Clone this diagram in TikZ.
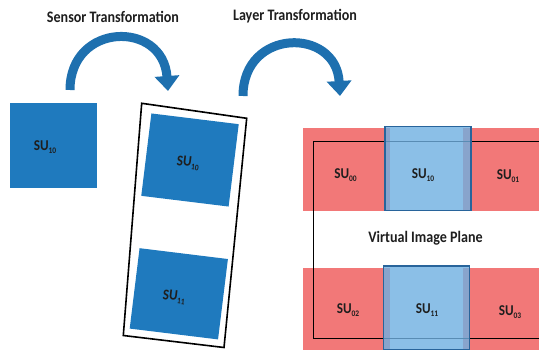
\documentclass[tikz,border=0pt]{standalone}
\usepackage{fontspec}
\setmainfont{Carlito}[FakeStretch=0.88]
\usetikzlibrary{arrows.meta}
\definecolor{subblue}{RGB}{31,122,190}
\definecolor{arrowblue}{RGB}{30,112,175}
\definecolor{subred}{RGB}{242,120,120}
\definecolor{vblue}{RGB}{110,175,225}
\definecolor{vborder}{RGB}{40,100,155}
\definecolor{txt}{RGB}{30,30,30}
\newcommand{\sulabel}[1]{SU\raisebox{-0.4ex}{\fontsize{8.5}{9}\selectfont #1}}
\begin{document}
\begin{tikzpicture}[x=1pt,y=-1pt,
  sensorbox/.style={fill=subblue, draw=none, inner sep=0pt},
  redbox/.style={fill=subred, draw=none, inner sep=0pt, minimum width=87pt, minimum height=83pt},
  vbox/.style={fill=vblue, fill opacity=0.8, draw=vborder, line width=1.2pt, inner sep=0pt, minimum width=86pt, minimum height=84pt},
  sutext/.style={font=\bfseries\fontsize{15}{15}\selectfont, text=txt, inner sep=0pt},
  title/.style={font=\bfseries\fontsize{16}{16}\selectfont, text=txt, inner sep=0pt},
  bigarrow/.style={draw=arrowblue, line width=9pt, -{Triangle[width=24pt,length=15pt]}}
]
\useasboundingbox (0,0) rectangle (539,350);

% titles
\node[title] (t1) at (113,17) {Sensor Transformation};
\node[title] (t2) at (295,16) {Layer Transformation};

% curved arrows
\coordinate (a1s) at (70,90);
\coordinate (a1e) at (168,91);
\coordinate (a2s) at (243,96);
\coordinate (a2e) at (340,96);
\draw[bigarrow] (a1s) .. controls (70,22) and (163,20) .. (a1e);
\draw[bigarrow] (a2s) .. controls (243,28) and (336,27) .. (a2e);

% left sensor square
\node[sensorbox, minimum width=87pt, minimum height=85pt] (s10) at (53.5,145.5) {};
\node[sutext] (l10) at (45,147) {\sulabel{10}};

% rotated frame
\draw[line width=1.6pt, black] (141.7,103.3) coordinate (f1) -- (246.7,118.3) coordinate (f2)
  -- (224,347.5) coordinate (f3) -- (123.3,335.5) coordinate (f4) -- cycle;
\node[sensorbox, rotate=-7, minimum width=88pt, minimum height=83pt] (r10) at (190,160) {};
\node[sutext, rotate=-7] (lr10) at (188,163) {\sulabel{10}};
\node[sensorbox, rotate=-7, minimum width=89pt, minimum height=81pt] (r11) at (178.8,293.8) {};
\node[sutext, rotate=-7] (lr11) at (174,297) {\sulabel{11}};

% virtual image plane: red layer
\node[redbox] (p00) at (346.5,169.5) {};
\node[redbox] (p01) at (506.5,169.5) {};
\node[redbox] (p02) at (346.5,309.5) {};
\node[redbox] (p03) at (506.5,309.5) {};

% frame of the virtual image plane
\draw[line width=1.6pt, black] (560,141.7) -- (313.3,141.7) -- (313.3,338.3) -- (560,338.3);

% blue layer
\node[vbox] (v10) at (428,168.5) {};
\node[vbox] (v11) at (426.5,308) {};

% labels
\node[sutext] (l00) at (345.5,175) {\sulabel{00}};
\node[sutext] (lv10) at (423,175) {\sulabel{10}};
\node[sutext] (l01) at (508,176) {\sulabel{01}};
\node[sutext] (l02) at (348,310) {\sulabel{02}};
\node[sutext] (lv11) at (427,310) {\sulabel{11}};
\node[sutext] (l03) at (510,312) {\sulabel{03}};
\node[title] (vip) at (425.5,238) {Virtual Image Plane};
\end{tikzpicture}
\end{document}
